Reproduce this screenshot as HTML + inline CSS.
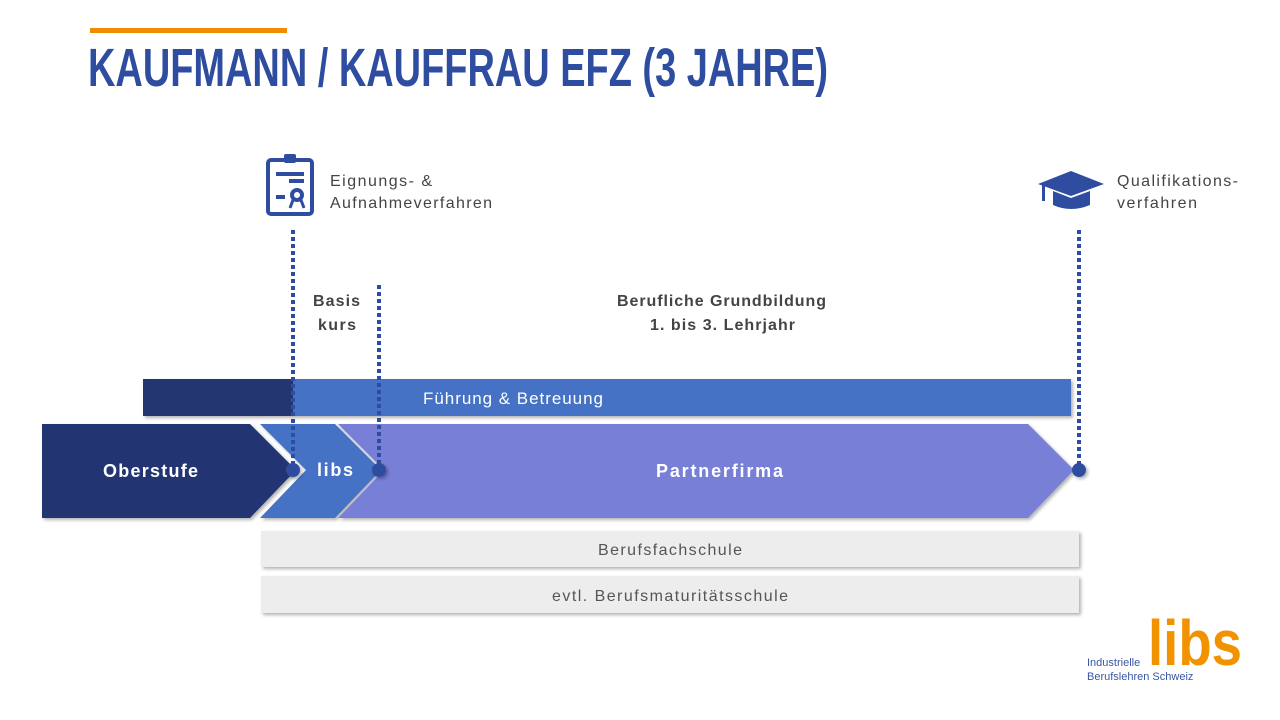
<!DOCTYPE html>
<html><head><meta charset="utf-8">
<style>
html,body{margin:0;padding:0;background:#fff;width:1280px;height:720px;overflow:hidden}
svg{display:block}
text{font-family:"Liberation Sans",sans-serif}
</style></head>
<body>
<svg width="1280" height="720" viewBox="0 0 1280 720" xmlns="http://www.w3.org/2000/svg">
<defs>
<filter id="sh" x="-5%" y="-20%" width="110%" height="150%">
<feDropShadow dx="2" dy="2" stdDeviation="1.5" flood-color="#000" flood-opacity="0.3"/>
</filter>
</defs>
<rect x="90" y="28" width="197" height="5" fill="#F08C00"/>
<text x="88" y="86" font-family="Liberation Sans Narrow, Liberation Sans, sans-serif" font-weight="bold" font-size="54" fill="#2E4DA0" textLength="740" lengthAdjust="spacingAndGlyphs">KAUFMANN / KAUFFRAU EFZ (3 JAHRE)</text>

<g fill="none" stroke="#2E4DA0" stroke-width="4">
<rect x="268" y="160" width="44" height="54" rx="3"/>
<line x1="276" y1="174" x2="304" y2="174"/>
<line x1="289" y1="181" x2="304" y2="181"/>
<line x1="276" y1="197" x2="285" y2="197"/>
<circle cx="297" cy="195" r="5"/>
</g>
<rect x="284" y="154" width="12" height="9" rx="2" fill="#2E4DA0"/>
<path d="M293 200 l-3 8 M301 200 l3 8" stroke="#2E4DA0" stroke-width="3"/>
<text x="330" y="186" font-size="16" fill="#444" textLength="102">Eignungs- &amp;</text>
<text x="330" y="208" font-size="16" fill="#444" textLength="162">Aufnahmeverfahren</text>

<path d="M1038 184 L1071 171 L1104 184 L1071 196 Z" fill="#2E4DA0"/>
<path d="M1053 191 L1053 205 Q1071 213 1090 205 L1090 191 L1071 198 Z" fill="#2E4DA0"/>
<rect x="1042" y="185" width="3" height="16" fill="#2E4DA0"/>
<text x="1117" y="186" font-size="16" fill="#444" textLength="121">Qualifikations-</text>
<text x="1117" y="208" font-size="16" fill="#444" textLength="80">verfahren</text>

<text x="313" y="306" font-size="16" font-weight="bold" fill="#444" textLength="47">Basis</text>
<text x="318" y="330" font-size="16" font-weight="bold" fill="#444" textLength="38">kurs</text>
<text x="617" y="306" font-size="16" font-weight="bold" fill="#444" textLength="209">Berufliche Grundbildung</text>
<text x="650" y="330" font-size="16" font-weight="bold" fill="#444" textLength="145">1. bis 3. Lehrjahr</text>

<g filter="url(#sh)">
<rect x="143" y="379" width="928" height="37" fill="#4472C4"/>
</g>
<rect x="143" y="379" width="150" height="37" fill="#243672"/>
<text x="423" y="404" font-size="17" fill="#fff" textLength="180">Führung &amp; Betreuung</text>

<g filter="url(#sh)">
<polygon points="338,424 1028,424 1074,470 1028,518 338,518 384,470" fill="#787FD6"/>
<polygon points="260,424 335,424 381,470 335,518 260,518 306,470" fill="#4472C4"/>
<polygon points="42,424 250,424 296,470 250,518 42,518" fill="#243672"/>
</g>
<text x="103" y="477" font-size="18" font-weight="bold" fill="#fff" textLength="95">Oberstufe</text>
<text x="317" y="476" font-size="18" font-weight="bold" fill="#fff" textLength="36">libs</text>
<text x="656" y="477" font-size="18" font-weight="bold" fill="#fff" textLength="127">Partnerfirma</text>

<g stroke="#2E4DA0" stroke-width="4" stroke-dasharray="4,3">
<line x1="293" y1="230" x2="293" y2="470"/>
<line x1="379" y1="285" x2="379" y2="470"/>
<line x1="1079" y1="230" x2="1079" y2="470"/>
</g>
<g fill="#2E4DA0" filter="url(#sh)">
<circle cx="293" cy="470" r="7"/>
<circle cx="379" cy="470" r="7"/>
<circle cx="1079" cy="470" r="7"/>
</g>

<g filter="url(#sh)">
<rect x="261" y="531" width="818" height="36" fill="#EDEDED"/>
<rect x="261" y="576" width="818" height="37" fill="#EDEDED"/>
</g>
<text x="598" y="555" font-size="16" fill="#555" textLength="144">Berufsfachschule</text>
<text x="552" y="601" font-size="16" fill="#555" textLength="236">evtl. Berufsmaturitätsschule</text>

<text x="1148" y="665" font-size="64" font-weight="bold" fill="#F39200" textLength="94" lengthAdjust="spacingAndGlyphs">libs</text>
<text x="1087" y="666" font-size="11" fill="#3A57A5">Industrielle</text>
<text x="1087" y="680" font-size="11" fill="#3A57A5">Berufslehren Schweiz</text>
</svg>
</body></html>
